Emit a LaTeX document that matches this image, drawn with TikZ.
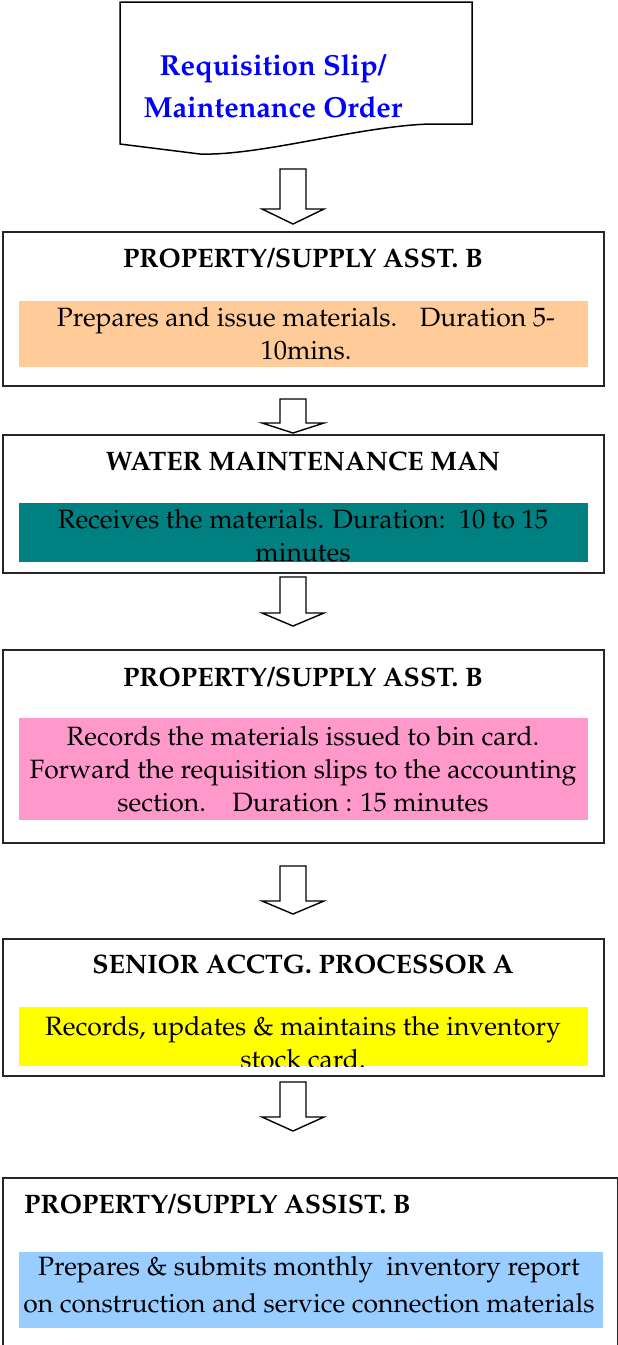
\documentclass[tikz,border=0pt]{standalone}
\usepackage[T1]{fontenc}
\usepackage{mathpazo}
\usetikzlibrary{calc}

\definecolor{docblue}{RGB}{0,0,255}
\definecolor{bandorange}{RGB}{255,204,153}
\definecolor{bandteal}{RGB}{0,128,128}
\definecolor{bandpink}{RGB}{255,153,204}
\definecolor{bandyellow}{RGB}{255,255,0}
\definecolor{bandblue}{RGB}{153,204,255}

\tikzset{
  stagebox/.style={draw=black!85, line width=2pt, inner sep=0pt, anchor=north west},
  band/.style={inner sep=0pt, anchor=north west},
  roletitle/.style={font=\fontsize{26.7}{30}\selectfont\bfseries, anchor=base, inner sep=0pt},
  tasktext/.style={font=\fontsize{26.5}{33}\selectfont, align=center, anchor=north, inner sep=0pt},
  doctext/.style={font=\fontsize{29}{42}\selectfont\bfseries, text=docblue, align=center, anchor=north, inner sep=0pt},
  blockarrow/.style={draw=black, line width=1.4pt, fill=white, line join=miter},
}

% hollow down arrow: #1 top of shaft, #2 tip, #3 head length
\newcommand\flowarrow[3]{%
  \draw[blockarrow] ($(#1)+(-13,0)$) -- ($(#1)+(13,0)$) -- ($(#2)+(13,-#3)$)
    -- ($(#2)+(31,-#3)$) -- (#2) -- ($(#2)+(-31,-#3)$) -- ($(#2)+(-13,-#3)$) -- cycle;}

\begin{document}
\begin{tikzpicture}[x=1pt,y=-1pt]
\useasboundingbox (0,0) rectangle (618,1345);

% document symbol
\draw[line width=1.5pt, line join=miter] (120,144) -- (120,2) -- (472,2) -- (472,124) -- (430,124)
  .. controls (360,126) and (260,156) .. (200,154) -- cycle;
\node[doctext] (doc) at (273,46) {\strut Requisition Slip/\\Maintenance Order};

% stage 1
\node[stagebox, minimum width=601pt, minimum height=154pt] (box1) at (2,231) {};
\node[band, fill=bandorange, minimum width=569pt, minimum height=66pt] (band1) at (19,301) {};
\node[roletitle] (title1) at (303,267) {PROPERTY/SUPPLY ASST. B};
\node[tasktext] (task1) at (306,303) {\strut Prepares and issue materials.\hspace{0.85em}Duration 5-\\10mins.};

% stage 2
\node[stagebox, minimum width=601pt, minimum height=138pt] (box2) at (2,434) {};
\node[band, fill=bandteal, minimum width=569pt, minimum height=59pt] (band2) at (19,503) {};
\node[roletitle] (title2) at (303,470) {WATER MAINTENANCE MAN};
\begin{scope}
  \clip (band2.north west) rectangle (band2.south east);
  \node[tasktext] (task2) at (303,505) {\strut Receives the materials. Duration:\ \ 10 to 15\\minutes};
\end{scope}

% stage 3
\node[stagebox, minimum width=601pt, minimum height=193pt] (box3) at (2,649) {};
\node[band, fill=bandpink, minimum width=569pt, minimum height=102pt] (band3) at (19,718) {};
\node[roletitle] (title3) at (303,686) {PROPERTY/SUPPLY ASST. B};
\node[tasktext] (task3) at (303,722) {\strut Records the materials issued to bin card.\\Forward the requisition slips to the accounting\\section.\hspace{1em}Duration : 15 minutes};

% stage 4
\node[stagebox, minimum width=601pt, minimum height=137pt] (box4) at (2,938) {};
\node[band, fill=bandyellow, minimum width=569pt, minimum height=59pt] (band4) at (19,1007) {};
\node[roletitle] (title4) at (303,973) {SENIOR ACCTG. PROCESSOR A};
\begin{scope}
  \clip (band4.north west) rectangle (band4.south east);
  \node[tasktext] (task4) at (303,1012) {\strut Records, updates \& maintains the inventory\\stock card.};
\end{scope}

% stage 5 (continues below the page)
\node[stagebox, minimum width=615pt, minimum height=190pt] (box5) at (2,1177) {};
\node[band, fill=bandblue, minimum width=584pt, minimum height=76pt] (band5) at (19,1252) {};
\node[roletitle, anchor=base west] (title5) at (24,1213) {PROPERTY/SUPPLY ASSIST. B};
\node[tasktext, font=\fontsize{26.5}{37}\selectfont] (task5) at (309,1249) {\strut Prepares \& submits monthly\ \ inventory report\\on construction and service connection materials};

% flow arrows
\coordinate (a1s) at (293,169);  \coordinate (a1e) at (293,224);
\coordinate (a2s) at (293,399);  \coordinate (a2e) at (293,433);
\coordinate (a3s) at (293,577);  \coordinate (a3e) at (293,626);
\coordinate (a4s) at (293,866);  \coordinate (a4e) at (293,914);
\coordinate (a5s) at (293,1082); \coordinate (a5e) at (293,1131);
\flowarrow{a1s}{a1e}{15}
\flowarrow{a2s}{a2e}{10}
\flowarrow{a3s}{a3e}{13}
\flowarrow{a4s}{a4e}{13}
\flowarrow{a5s}{a5e}{14}
\end{tikzpicture}
\end{document}
